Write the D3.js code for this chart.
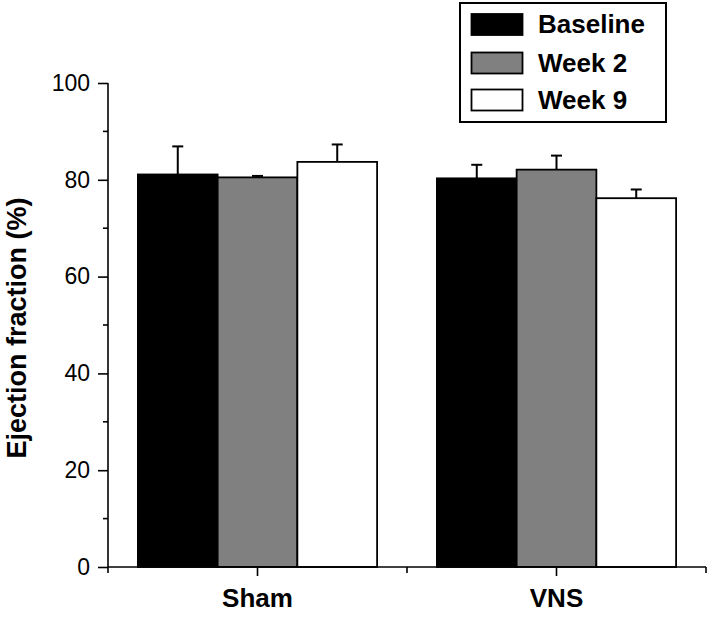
<!DOCTYPE html>
<html><head><meta charset="utf-8">
<script src="https://cdn.jsdelivr.net/npm/d3@7"></script>
<style>body{margin:0;background:#fff}svg{display:block}text{font-family:Arial,"Liberation Sans",sans-serif}</style>
</head><body>
<svg id="c" width="709" height="618"></svg>
<script>
const groups = ["Sham", "VNS"];
const seriesNames = ["Baseline", "Week 2", "Week 9"];
const baselineVals = [81.1, 80.3];
const week2Vals = [80.5, 82.1];
const week9Vals = [83.7, 76.2];
const baselineErr = [5.8, 2.8];
const week2Err = [0.3, 2.9];
const week9Err = [3.6, 1.8];
const yTicks = [0, 20, 40, 60, 80, 100];
const yMinor = [10, 30, 50, 70, 90];
const fills = ["#000000", "#808080", "#ffffff"];

const values = [baselineVals, week2Vals, week9Vals];
const errs = [baselineErr, week2Err, week9Err];

const svg = d3.select("#c");
const x0 = d3.scaleBand().domain(groups).range([108, 706]).padding(0);
const x1 = d3.scaleBand().domain(seriesNames).range([0, x0.bandwidth()]).paddingInner(0).paddingOuter(0.375);
const y = d3.scaleLinear().domain([0, 100]).range([567, 83]);

const data = [];
groups.forEach((g, gi) => seriesNames.forEach((s, si) => {
  data.push({g, s, si, v: values[si][gi], e: errs[si][gi]});
}));

// error bars (behind bars)
const eb = svg.append("g").attr("stroke", "#000").attr("stroke-width", 2);
data.forEach(d => {
  const cx = x0(d.g) + x1(d.s) + x1.bandwidth() / 2;
  eb.append("line").attr("x1", cx).attr("x2", cx).attr("y1", y(d.v)).attr("y2", y(d.v + d.e));
  eb.append("line").attr("x1", cx - 5.5).attr("x2", cx + 5.5).attr("y1", y(d.v + d.e)).attr("y2", y(d.v + d.e));
});

// bars
svg.append("g").selectAll("rect").data(data).join("rect")
  .attr("x", d => x0(d.g) + x1(d.s))
  .attr("width", x1.bandwidth())
  .attr("y", d => y(d.v))
  .attr("height", d => y(0) - y(d.v))
  .attr("fill", d => fills[d.si])
  .attr("stroke", "#000").attr("stroke-width", 1.8);

// y axis
const ya = svg.append("g").attr("transform", "translate(108,0)");
ya.call(d3.axisLeft(y).tickValues(yTicks).tickSize(10).tickPadding(8).tickFormat(d3.format("d")));
ya.selectAll(".tick text").attr("font-size", 23).attr("font-family", "Arial, 'Liberation Sans', sans-serif").attr("fill", "#000");
ya.selectAll("line,path").attr("stroke", "#000").attr("stroke-width", 1.6);
ya.select(".domain").attr("d", `M0,${y(100)}V${y(0)}`);
yMinor.forEach(v => ya.append("line").attr("x1", -5).attr("x2", 0).attr("y1", y(v)).attr("y2", y(v)).attr("stroke", "#000").attr("stroke-width", 1.6));

// x axis
const xa = svg.append("g").attr("transform", `translate(0,${y(0)})`);
xa.append("line").attr("x1", 108).attr("x2", 706).attr("stroke", "#000").attr("stroke-width", 1.6);
const bounds = [108, x0("VNS"), 706];
bounds.forEach(b => xa.append("line").attr("x1", b).attr("x2", b).attr("y1", 0).attr("y2", 6).attr("stroke", "#000").attr("stroke-width", 1.6));
groups.forEach(g => {
  const cx = x0(g) + x0.bandwidth() / 2;
  xa.append("line").attr("x1", cx).attr("x2", cx).attr("y1", 0).attr("y2", 9).attr("stroke", "#000").attr("stroke-width", 1.6);
  xa.append("text").attr("x", cx).attr("y", 40).attr("text-anchor", "middle")
    .attr("font-size", 26).attr("font-weight", "bold").text(g);
});

// y label
svg.append("text").attr("transform", "translate(26,328) rotate(-90)").attr("text-anchor", "middle")
  .attr("font-size", 27).attr("font-weight", "bold").text("Ejection fraction (%)");

// legend
const lg = svg.append("g");
lg.append("rect").attr("x", 460).attr("y", 3).attr("width", 206).attr("height", 119)
  .attr("fill", "#fff").attr("stroke", "#000").attr("stroke-width", 2);
const rowY = [14, 52.5, 89.5];
seriesNames.forEach((s, i) => {
  lg.append("rect").attr("x", 471.5).attr("y", rowY[i]).attr("width", 51).attr("height", 21)
    .attr("fill", fills[i]).attr("stroke", "#000").attr("stroke-width", 1.8);
  lg.append("text").attr("x", 538).attr("y", rowY[i] + 19).attr("font-size", 26).attr("font-weight", "bold").text(s);
});
</script>
</body></html>
